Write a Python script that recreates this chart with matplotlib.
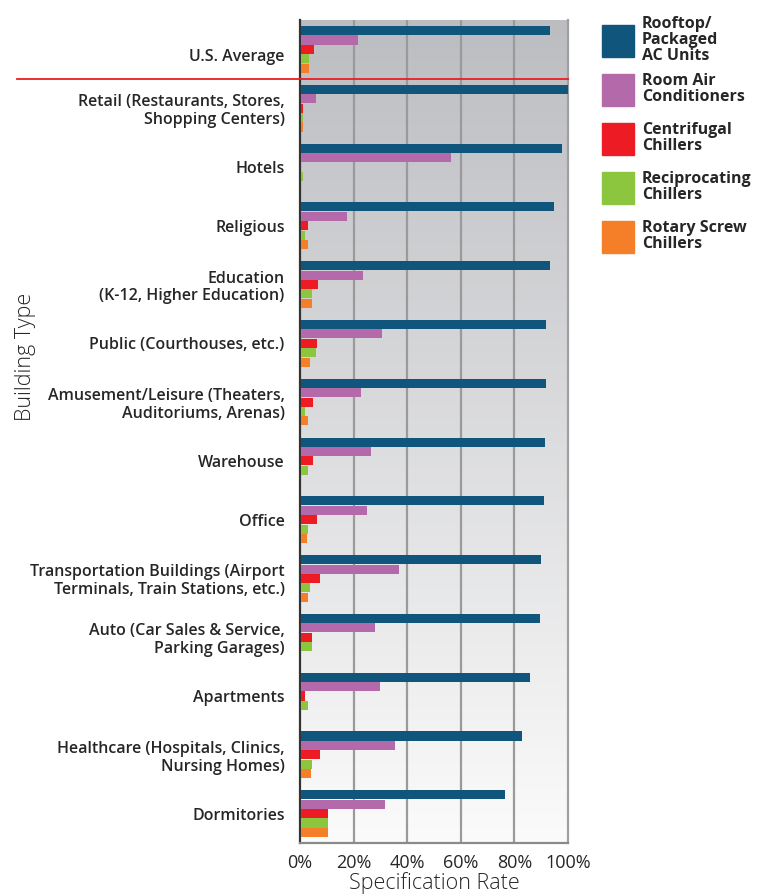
import matplotlib.pyplot as plt
import matplotlib.transforms as mtransforms
import numpy as np
from matplotlib.patches import Rectangle
from matplotlib.colors import LinearSegmentedColormap

categories = [
    "U.S. Average",
    "Retail (Restaurants, Stores,\nShopping Centers)",
    "Hotels",
    "Religious",
    "Education\n(K-12, Higher Education)",
    "Public (Courthouses, etc.)",
    "Amusement/Leisure (Theaters,\nAuditoriums, Arenas)",
    "Warehouse",
    "Office",
    "Transportation Buildings (Airport\nTerminals, Train Stations, etc.)",
    "Auto (Car Sales & Service,\nParking Garages)",
    "Apartments",
    "Healthcare (Hospitals, Clinics,\nNursing Homes)",
    "Dormitories",
]

series_names = [
    "Rooftop/\nPackaged\nAC Units",
    "Room Air\nConditioners",
    "Centrifugal\nChillers",
    "Reciprocating\nChillers",
    "Rotary Screw\nChillers",
]

rooftop = [92.9, 100, 97.4, 94.4, 92.9, 91.4, 91.4, 91.0, 90.6, 89.5, 89.1, 85.4, 82.4, 76.0]
room_ac = [21.3, 5.6, 56.0, 17.2, 23.2, 30.3, 22.5, 26.2, 24.7, 36.7, 27.7, 29.6, 35.2, 31.5]
centrifugal = [4.9, 0.7, 0, 2.6, 6.4, 6.0, 4.5, 4.5, 6.0, 7.1, 4.1, 1.5, 7.1, 10.1]
reciprocating = [3.0, 0.7, 0.8, 1.5, 4.1, 5.6, 1.5, 2.6, 2.6, 3.4, 4.1, 2.6, 4.1, 10.1]
rotary = [3.0, 0.7, 0, 2.6, 4.1, 3.4, 2.6, 0, 2.2, 2.6, 0, 0, 3.7, 10.1]

series = [rooftop, room_ac, centrifugal, reciprocating, rotary]
colors = ["#10567c", "#b469ab", "#ed1c24", "#8cc63f", "#f47f28"]

plt.rcParams['font.family'] = ['Open Sans', 'DejaVu Sans']
text_color = "#262626"

fig = plt.figure(figsize=(7.66, 8.96), dpi=100)
ax = fig.add_axes([300 / 766, 1 - 843 / 896, 268 / 766, 823 / 896])

# gradient background, dark gray at top fading to near white
grad = np.linspace(0, 1, 256).reshape(-1, 1)
bg_cmap = LinearSegmentedColormap.from_list("bg", ["#bcbdc1", "#fbfbfb"])
ax.imshow(grad, cmap=bg_cmap, aspect='auto', extent=[0, 1, 0, 1],
          transform=ax.transAxes, zorder=0)

y = np.arange(len(categories))
step = 0.16
h = 0.155
for k, vals in enumerate(series):
    ax.barh(y + (k - 2) * step, vals, height=h, color=colors[k], zorder=3,
            left=0.4)

for gx in [20, 40, 60, 80]:
    ax.axvline(gx, color="#9a9a9a", lw=1.6, zorder=1)

ax.set_xlim(0, 100)
ax.set_ylim(len(categories) - 0.5, -0.5)
ax.set_xticks([0, 20, 40, 60, 80, 100])
ax.set_xticklabels(["0%", "20%", "40%", "60%", "80%", "100%"])
ax.set_yticks(y)
ax.set_yticklabels(categories, fontsize=11.5, fontweight='semibold',
                   color=text_color, linespacing=1.15)
ax.tick_params(axis='y', length=0, pad=11)
ax.tick_params(axis='x', length=0, pad=8, labelsize=13, labelcolor=text_color)

# U.S. Average label sits a little lower in the original
first = ax.get_yticklabels()[0]
first.set_transform(first.get_transform() +
                    mtransforms.ScaledTranslation(0, -0.06, fig.dpi_scale_trans))

ax.spines['top'].set_visible(False)
ax.spines['left'].set_color("#333333")
ax.spines['left'].set_linewidth(1.6)
ax.spines['bottom'].set_color("#8a8a8a")
ax.spines['bottom'].set_linewidth(1.6)
ax.spines['right'].set_color("#a0a0a0")
ax.spines['right'].set_linewidth(1.6)

ax.set_xlabel("Specification Rate", fontsize=15.5, fontweight='light',
              color=text_color, labelpad=0)
fig.text(25 / 766, 1 - 357 / 896, "Building Type", rotation=90, fontsize=15.5,
         fontweight='light', color=text_color, ha='center', va='center')

# red separator under U.S. Average
ax.plot([(17 - 300) / 268, 1], [0.5, 0.5], transform=ax.get_yaxis_transform(),
        color="#ed1c24", lw=1.3, clip_on=False, zorder=5)

# legend
sq = 32
for k, name in enumerate(series_names):
    cy = 41 + k * 49
    fig.patches.append(Rectangle((602 / 766, 1 - (cy + sq / 2) / 896), sq / 766, sq / 896,
                                 transform=fig.transFigure, color=colors[k]))
    fig.text(642 / 766, 1 - (cy - 1) / 896, name, fontsize=11.5, fontweight='bold',
             color=text_color, ha='left', va='center', linespacing=1.0)

fig.savefig("out.png", dpi=100)
